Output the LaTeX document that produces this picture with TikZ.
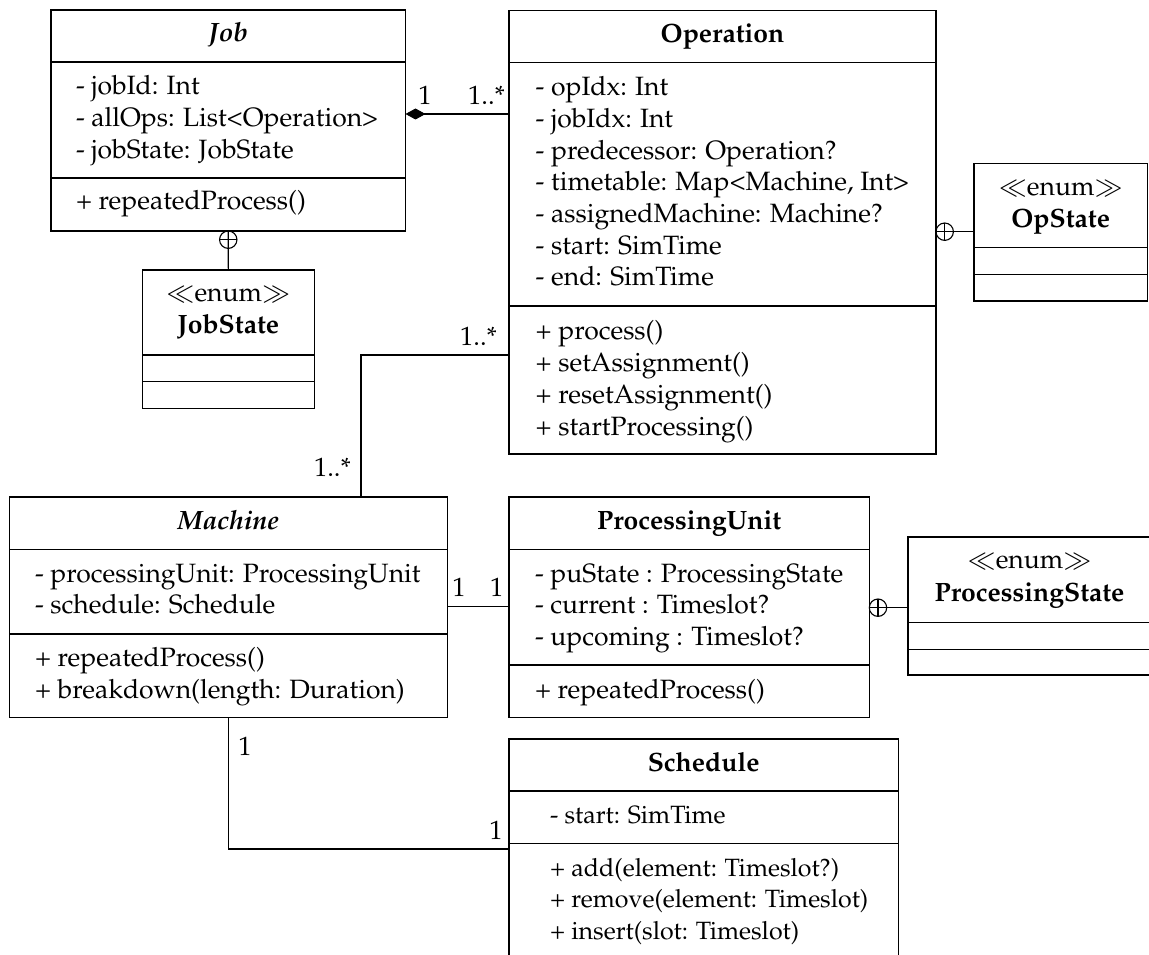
\documentclass[tikz,border=0pt]{standalone}
\usepackage[T1]{fontenc}
\usepackage{mathpazo}
\usetikzlibrary{arrows.meta}

% one unit = 1pt, y grows downwards
\newcommand{\compline}[2]{\draw[boxline] (#1.west |- 0,#2) -- (#1.east |- 0,#2);}
\newcommand{\nestsign}[1]{%
  \draw[link] (#1) circle (8.7pt);
  \draw[link] (#1) ++(-8.7,0) -- ++(17.4,0);
  \draw[link] (#1) ++(0,-8.7) -- ++(0,17.4);}
\newcommand{\umlfont}{\fontsize{26.5}{31.7}\selectfont}
\newcommand{\umlsmallfont}{\fontsize{25}{31.7}\selectfont}

\begin{document}
\begin{tikzpicture}[x=1pt,y=-1pt,
  every node/.style={inner sep=0pt, outer sep=0pt},
  boxline/.style={draw=black, line width=1.2pt},
  umlbox/.style={boxline, anchor=north west, fill=white},
  link/.style={draw=black, line width=1.1pt},
  txt/.style={font=\umlfont, align=left, anchor=north west},
  ttl/.style={font=\umlfont\bfseries, anchor=base},
  ster/.style={font=\umlfont, anchor=base},
  mult/.style={font=\umlfont},
]
\useasboundingbox (0,0) rectangle (1149,955);
\clip (0,0) rectangle (1149,955);

% ---------- class boxes ----------
\node[umlbox, minimum width=354.5pt, minimum height=221pt] (job) at (51,10) {};
\node[umlbox, minimum width=172pt, minimum height=138.3pt] (jst) at (142.3,270) {};
\node[umlbox, minimum width=427pt, minimum height=443.7pt] (op) at (509,10.3) {};
\node[umlbox, minimum width=173.3pt, minimum height=137.7pt] (ost) at (974,163.3) {};
\node[umlbox, minimum width=438pt, minimum height=220.3pt] (mach) at (9.3,497) {};
\node[umlbox, minimum width=360.3pt, minimum height=220.3pt] (pu) at (509,497) {};
\node[umlbox, minimum width=243pt, minimum height=138pt] (pst) at (908,537) {};
\node[umlbox, minimum width=389.3pt, minimum height=223pt] (sch) at (509,739) {};

% compartment separators
\compline{job}{62} \compline{job}{178}
\compline{jst}{355} \compline{jst}{381.7}
\compline{op}{62.3} \compline{op}{306}
\compline{ost}{247.7} \compline{ost}{274.3}
\compline{mach}{549.3} \compline{mach}{634}
\compline{pu}{549.3} \compline{pu}{665}
\compline{pst}{622.7} \compline{pst}{649.3}
\compline{sch}{791} \compline{sch}{843.3}

% ---------- class names ----------
\node[ttl] (job-name) at (228.25,42) {\textit{Job}};
\node[ttl] (op-name) at (722.5,42.3) {Operation};
\node[ttl] (mach-name) at (228.3,529.3) {\textit{Machine}};
\node[ttl] (pu-name) at (689.2,529.3) {ProcessingUnit};
\node[ttl] (sch-name) at (703.7,771.7) {Schedule};

\node[ster] (jst-st) at (228.3,301) {$\ll$enum$\gg$};
\node[ttl] (jst-name) at (228.3,333.3) {JobState};
\node[ster] (ost-st) at (1060.7,195.7) {$\ll$enum$\gg$};
\node[ttl] (ost-name) at (1060.7,227.3) {OpState};
\node[ster] (pst-st) at (1029.5,568.5) {$\ll$enum$\gg$};
\node[ttl] (pst-name) at (1029.5,601) {ProcessingState};

% ---------- attributes and operations ----------
\node[txt] (job-att) at (76,72.8) {\strut- jobId: Int\\- allOps: List<Operation>\\- jobState: JobState};
\node[txt] (job-ops) at (76,187.8) {\strut+ repeatedProcess()};

\node[txt] (op-att) at (535.7,73.5) {\strut- opIdx: Int\\- jobIdx: Int\\- predecessor: Operation?\\- timetable: Map<Machine, Int>\\- assignedMachine: Machine?\\- start: SimTime\\- end: SimTime};
\node[txt] (op-ops) at (535.7,317.8) {\strut+ process()\\+ setAssignment()\\+ resetAssignment()\\+ startProcessing()};

\node[txt] (mach-att) at (35,560.1) {\strut- processingUnit: ProcessingUnit\\- schedule: Schedule};
\node[txt] (mach-ops) at (35,644.8) {\strut+ repeatedProcess()\\+ breakdown(length: Duration)};

\node[txt] (pu-att) at (535,560.1) {\strut- puState : ProcessingState\\- current : Timeslot?\\- upcoming : Timeslot?};
\node[txt] (pu-ops) at (535,676.3) {\strut+ repeatedProcess()};

\node[txt, font=\umlsmallfont] (sch-att) at (550,801.8) {\strut- start: SimTime};
\node[txt, font=\umlsmallfont] (sch-ops) at (550,854.1) {\strut+ add(element: Timeslot?)\\+ remove(element: Timeslot)\\+ insert(slot: Timeslot)};

% ---------- relations ----------
% Job <>-- Operation (composition)
\coordinate (jo1) at (job.east |- 0,114);
\coordinate (jo2) at (op.west |- 0,114);
\draw[link, {Diamond[length=20pt,width=11pt]}-] (jo1) -- (jo2);
\node[mult, anchor=base] (jo-m1) at (425,105) {1};
\node[mult, anchor=base east] (jo-m2) at (505,105) {1..*};

% Job (+)-- JobState
\path (job.south) ++(0,8.7) coordinate (jn);
\draw[link] (job.south) -- (jst.north);
\nestsign{jn}

% Operation (+)-- OpState
\coordinate (on1) at (op.east |- 0,231.7);
\coordinate (on2) at (ost.west |- 0,231.7);
\path (on1) ++(8.7,0) coordinate (on);
\draw[link] (on1) -- (on2);
\nestsign{on}

% Operation -- Machine
\coordinate (om1) at (op.west |- 0,355);
\coordinate (om2) at (mach.north -| 361,0);
\draw[link] (om1) -| (om2);
\node[mult, anchor=base east] (om-m1) at (497,345) {1..*};
\node[mult, anchor=base west] (om-m2) at (314,476) {1..*};

% Machine -- ProcessingUnit
\coordinate (mp1) at (mach.east |- 0,606.7);
\coordinate (mp2) at (pu.west |- 0,606.7);
\draw[link] (mp1) -- (mp2);
\node[mult, anchor=base] (mp-m1) at (459,596) {1};
\node[mult, anchor=base] (mp-m2) at (496.7,596) {1};

% ProcessingUnit (+)-- ProcessingState
\coordinate (pn1) at (pu.east |- 0,607.7);
\coordinate (pn2) at (pst.west |- 0,607.7);
\path (pn1) ++(8.7,0) coordinate (pn);
\draw[link] (pn1) -- (pn2);
\nestsign{pn}

% Machine -- Schedule
\coordinate (ms2) at (sch.west |- 0,849);
\draw[link] (mach.south) |- (ms2);
\node[mult, anchor=base] (ms-m1) at (245,755) {1};
\node[mult, anchor=base] (ms-m2) at (496,839) {1};
\end{tikzpicture}
\end{document}
